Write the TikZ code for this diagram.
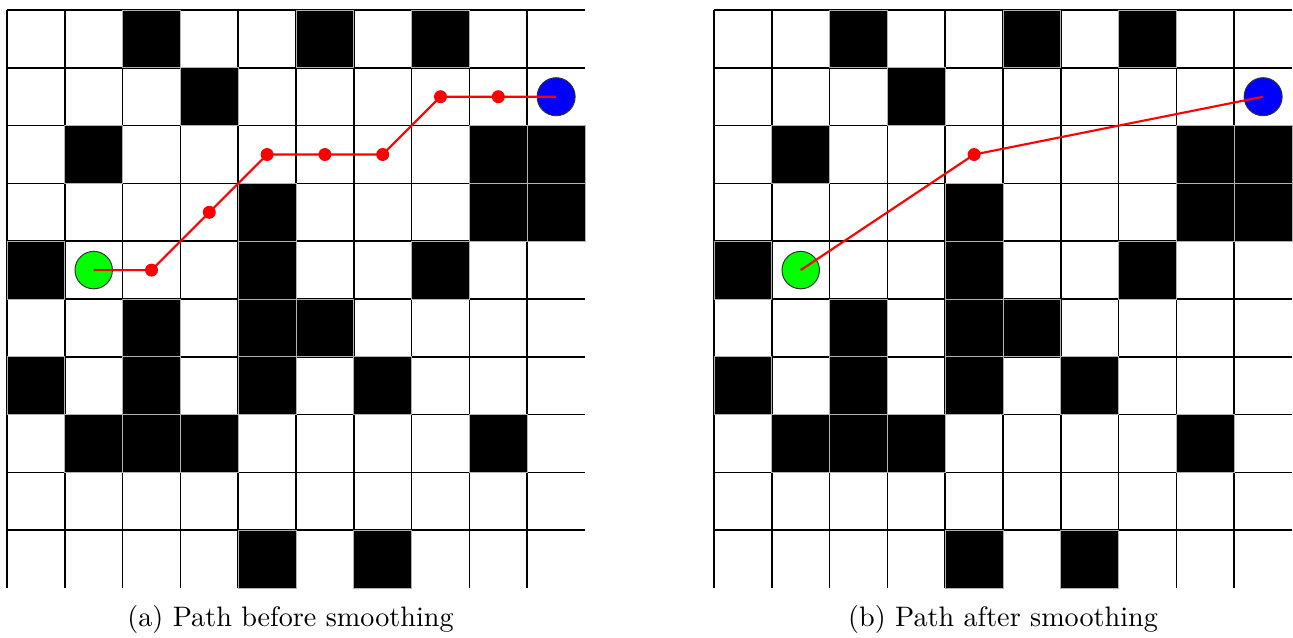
\documentclass[tikz,border=0pt]{standalone}
\begin{document}
\begin{tikzpicture}[x=0.355pt,y=-0.355pt,
  gridline/.style={line width=0.55pt,black},
  wall/.style={fill=black,draw=gray!60,line width=0.3pt},
  startpt/.style={circle,fill=green,draw=black!80,line width=0.35pt,minimum size=13.3pt,inner sep=0pt},
  goalpt/.style={circle,fill=blue,draw=black!80,line width=0.35pt,minimum size=13.5pt,inner sep=0pt},
  waypt/.style={circle,fill=red,minimum size=4.6pt,inner sep=0pt},
  pathline/.style={red,line width=0.75pt},
  caption/.style={anchor=base,font=\normalsize,inner sep=0pt}]
\useasboundingbox (0,0) rectangle (1293,637);
\def\cs{57.8}
\foreach \ox in {7,714} {
  \foreach \i in {0,...,9} {
    \draw[gridline] ({\ox+\i*\cs},10) -- ({\ox+\i*\cs},588);
    \draw[gridline] (\ox,{10+\i*\cs}) -- ({\ox+578},{10+\i*\cs});
  }
  \foreach \c/\r in {2/0,5/0,7/0,3/1,1/2,8/2,9/2,4/3,8/3,9/3,0/4,4/4,7/4,2/5,4/5,5/5,0/6,2/6,4/6,6/6,1/7,2/7,3/7,8/7,4/9,6/9}
    \draw[wall] ({\ox+\c*\cs},{10+\r*\cs}) rectangle ++(\cs,\cs);
}
% left: path before smoothing
\coordinate (la) at (93.7,270.1);
\coordinate (l1) at (151.5,270.1);
\coordinate (l2) at (209.3,212.3);
\coordinate (l3) at (267.1,154.5);
\coordinate (l4) at (324.9,154.5);
\coordinate (l5) at (382.7,154.5);
\coordinate (l6) at (440.5,96.7);
\coordinate (l7) at (498.3,96.7);
\coordinate (lb) at (556.1,96.7);
\node[startpt] (lstart) at (la) {};
\node[goalpt] (lgoal) at (lb) {};
\draw[pathline] (la) -- (l1) -- (l2) -- (l3) -- (l4) -- (l5) -- (l6) -- (l7) -- (lb);
\foreach \p in {1,...,7} \node[waypt] (lw\p) at (l\p) {};
% right: path after smoothing
\coordinate (ra) at (800.7,270.1);
\coordinate (r1) at (974.1,154.5);
\coordinate (rb) at (1263.1,96.7);
\node[startpt] (rstart) at (ra) {};
\node[goalpt] (rgoal) at (rb) {};
\draw[pathline] (ra) -- (r1) -- (rb);
\node[waypt] (rw1) at (r1) {};
% captions
\node[caption] (capa) at (290.5,626) {(a) Path before smoothing};
\node[caption] (capb) at (1003,626) {(b) Path after smoothing};
\end{tikzpicture}
\end{document}
